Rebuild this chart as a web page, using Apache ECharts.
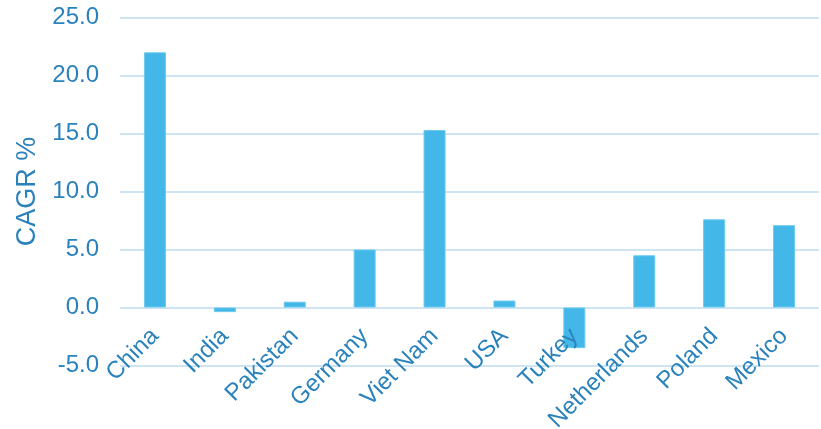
<!DOCTYPE html>
<html><head><meta charset="utf-8">
<script src="https://cdn.jsdelivr.net/npm/echarts@6/dist/echarts.min.js"></script>
<style>html,body{margin:0;padding:0;background:#fff}#c{width:821px;height:429px}</style>
</head><body><div id="c"></div>
<script>
var categories = ["China","India","Pakistan","Germany","Viet Nam","USA","Turkey","Netherlands","Poland","Mexico"];
var cagr = [22.0,-0.4,0.5,5.0,15.3,0.6,-3.5,4.5,7.6,7.1];
var yTicks = {min:-5, max:25, interval:5};
var chart = echarts.init(document.getElementById('c'));
var txt = '#2a82bd';
chart.setOption({
  animation:false,
  grid:{left:120,right:2,top:17.5,bottom:63.5,containLabel:false,outerBoundsMode:'none'},
  xAxis:{type:'category',data:categories,offset:-58,z:10,
    axisLine:{show:false,onZero:false},axisTick:{show:false},
    axisLabel:{rotate:45,color:txt,fontSize:24,fontFamily:'Liberation Sans, Arial, sans-serif',margin:25,interval:0}},
  yAxis:{type:'value',min:yTicks.min,max:yTicks.max,interval:yTicks.interval,
    name:'CAGR %',nameLocation:'middle',nameGap:79,
    nameTextStyle:{color:txt,fontSize:27,fontFamily:'Liberation Sans, Arial, sans-serif'},
    axisLabel:{color:txt,fontSize:24,fontFamily:'Liberation Sans, Arial, sans-serif',margin:21,
      formatter:function(v){return v.toFixed(1);}},
    splitLine:{lineStyle:{color:'#cfe4f3',width:2}},
    axisLine:{show:false},axisTick:{show:false}},
  series:[{type:'bar',data:cagr,barWidth:22,z:2,
    itemStyle:{color:'#43b8e8',borderColor:'#6ccaef',borderWidth:1}}]
});
</script></body></html>
